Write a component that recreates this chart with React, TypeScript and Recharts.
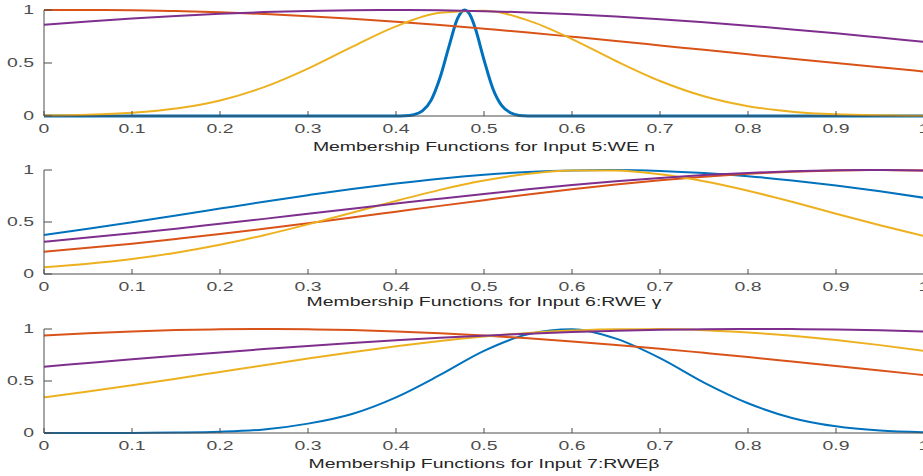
import React from "react";
import { LineChart, Line, XAxis, YAxis, Label } from "recharts";

// shared sample positions for the broad membership curves
const X_GRID = [0, 0.05, 0.1, 0.15, 0.2, 0.25, 0.3, 0.35, 0.4, 0.45, 0.5, 0.55, 0.6, 0.65, 0.7, 0.75, 0.8, 0.85, 0.9, 0.95, 1];
// denser sampling around the narrow peak of input 5
const X_PEAK = [0, 0.4, 0.41, 0.42, 0.43, 0.44, 0.45, 0.46, 0.47, 0.478, 0.485, 0.49, 0.5, 0.51, 0.52, 0.53, 0.54, 0.55, 1];

const X_TICKS = [0, 0.1, 0.2, 0.3, 0.4, 0.5, 0.6, 0.7, 0.8, 0.9, 1];
const X_TICK_LABELS = ["0", "0.1", "0.2", "0.3", "0.4", "0.5", "0.6", "0.7", "0.8", "0.9", "1"];
const Y_TICKS = [0, 0.5, 1];
const Y_TICK_LABELS = ["0", "0.5", "1"];

// input 5: WE n
const WE_BLUE = [0, 0, 0.002, 0.012, 0.048, 0.15, 0.36, 0.65, 0.92, 1, 0.94, 0.83, 0.53, 0.26, 0.1, 0.03, 0.005, 0.001, 0];
const WE_ORANGE = [1, 1, 0.998, 0.99, 0.979, 0.962, 0.942, 0.917, 0.889, 0.858, 0.823, 0.787, 0.748, 0.708, 0.666, 0.624, 0.582, 0.54, 0.499, 0.459, 0.42];
const WE_YELLOW = [0.004, 0.011, 0.03, 0.07, 0.147, 0.272, 0.447, 0.652, 0.846, 0.973, 0.994, 0.902, 0.726, 0.519, 0.33, 0.186, 0.093, 0.041, 0.016, 0.006, 0.002];
const WE_PURPLE = [0.86, 0.891, 0.919, 0.944, 0.964, 0.98, 0.991, 0.998, 1, 0.997, 0.989, 0.977, 0.96, 0.938, 0.913, 0.884, 0.852, 0.817, 0.78, 0.74, 0.7];

// input 6: RWE γ
const RWEG_BLUE = [0.375, 0.435, 0.498, 0.563, 0.629, 0.695, 0.758, 0.818, 0.871, 0.917, 0.954, 0.981, 0.996, 1, 0.991, 0.971, 0.941, 0.9, 0.851, 0.795, 0.733];
const RWEG_ORANGE = [0.215, 0.252, 0.292, 0.337, 0.384, 0.435, 0.488, 0.543, 0.599, 0.655, 0.71, 0.764, 0.814, 0.86, 0.901, 0.936, 0.964, 0.984, 0.996, 1, 0.995];
const RWEG_YELLOW = [0.064, 0.098, 0.144, 0.205, 0.281, 0.373, 0.477, 0.589, 0.703, 0.809, 0.898, 0.963, 0.996, 0.995, 0.959, 0.892, 0.801, 0.694, 0.58, 0.469, 0.365];
const RWEG_PURPLE = [0.31, 0.35, 0.392, 0.436, 0.483, 0.53, 0.579, 0.628, 0.677, 0.724, 0.77, 0.814, 0.855, 0.891, 0.923, 0.951, 0.972, 0.988, 0.997, 1, 0.996];

// input 7: RWEβ
const RWEB_BLUE = [0, 0, 0.001, 0.004, 0.012, 0.034, 0.09, 0.183, 0.343, 0.558, 0.79, 0.95, 0.998, 0.907, 0.72, 0.485, 0.286, 0.145, 0.064, 0.024, 0.008];
const RWEB_ORANGE = [0.937, 0.959, 0.977, 0.99, 0.997, 1, 0.997, 0.99, 0.977, 0.959, 0.937, 0.911, 0.88, 0.846, 0.811, 0.771, 0.73, 0.687, 0.644, 0.6, 0.557];
const RWEB_YELLOW = [0.343, 0.399, 0.459, 0.522, 0.587, 0.652, 0.716, 0.777, 0.834, 0.885, 0.928, 0.962, 0.985, 0.998, 0.999, 0.989, 0.967, 0.935, 0.894, 0.845, 0.79];
const RWEB_PURPLE = [0.638, 0.673, 0.708, 0.742, 0.775, 0.807, 0.837, 0.865, 0.891, 0.915, 0.936, 0.955, 0.97, 0.982, 0.992, 0.997, 1, 0.999, 0.995, 0.987, 0.976];

const COLORS = ["#0072BD", "#D95319", "#EDB120", "#7E2F8E"];
const FONT = "'Liberation Sans', Arial, Helvetica, sans-serif";
const SX = 1.62; // glyphs are drawn wide
const AXIS = "#4d4d4d";

const toPoints = (xs: number[], ys: number[]) => xs.map((x, i) => ({ x, y: ys[i] }));

const XTick = ({ x, y, index }: any) => (
  <g transform={`translate(${x},${y}) scale(${SX},1)`}>
    <text textAnchor="middle" dy="0.71em" fontSize={12} fill={AXIS} fontFamily={FONT}>
      {X_TICK_LABELS[index]}
    </text>
  </g>
);

const YTick = ({ x, y, index }: any) => (
  <g transform={`translate(${x},${y}) scale(${SX},1)`}>
    <text textAnchor="end" dy="0.355em" fontSize={12} fill={AXIS} fontFamily={FONT}>
      {Y_TICK_LABELS[index]}
    </text>
  </g>
);

const AxisTitle = ({ viewBox, text, dy }: any) => {
  const { x, y, width } = viewBox;
  return (
    <g transform={`translate(${x + width / 2},${y + dy}) scale(${SX},1)`}>
      <text textAnchor="middle" fontSize={12} fill="#262626" fontFamily={FONT}>
        {text}
      </text>
    </g>
  );
};

type Series = { xs: number[]; ys: number[]; width: number };

function Panel({ top, plotH, title, titleDy, series }: { top: number; plotH: number; title: string; titleDy: number; series: Series[] }) {
  return (
    <div style={{ position: "absolute", left: 0, top: top - 10 }}>
      <LineChart width={940} height={plotH + 60} margin={{ top: 10, right: 16, bottom: 0, left: 0 }}>
        <XAxis
          xAxisId="top"
          orientation="top"
          type="number"
          dataKey="x"
          domain={[0, 1]}
          ticks={X_TICKS}
          height={0}
          tick={false}
          tickSize={-5}
          stroke={AXIS}
        />
        <XAxis
          type="number"
          dataKey="x"
          domain={[0, 1]}
          ticks={X_TICKS}
          height={50}
          tick={<XTick />}
          tickSize={-5}
          tickMargin={13}
          stroke={AXIS}
          interval={0}
        >
          <Label content={(p: any) => <AxisTitle viewBox={p.viewBox} text={title} dy={titleDy} />} />
        </XAxis>
        <YAxis
          type="number"
          domain={[0, 1]}
          ticks={Y_TICKS}
          width={44}
          tick={<YTick />}
          tickSize={-8}
          tickMargin={18}
          stroke={AXIS}
          interval={0}
        />
        {series.map((s, i) => (
          <Line
            key={i}
            data={toPoints(s.xs, s.ys)}
            dataKey="y"
            type="monotone"
            stroke={COLORS[i]}
            strokeWidth={s.width}
            dot={false}
            activeDot={false}
            isAnimationActive={false}
          />
        ))}
      </LineChart>
    </div>
  );
}

export default function App() {
  return (
    <div style={{ position: "fixed", left: 0, top: 0, width: 923, height: 476, overflow: "hidden", background: "#fff" }}>
      <Panel
        top={10}
        plotH={106}
        title="Membership Functions for Input 5:WE n"
        titleDy={35}
        series={[
          { xs: X_PEAK, ys: WE_BLUE, width: 3 },
          { xs: X_GRID, ys: WE_ORANGE, width: 2 },
          { xs: X_GRID, ys: WE_YELLOW, width: 2 },
          { xs: X_GRID, ys: WE_PURPLE, width: 2 },
        ]}
      />
      <Panel
        top={170}
        plotH={104}
        title="Membership Functions for Input 6:RWE γ"
        titleDy={32}
        series={[
          { xs: X_GRID, ys: RWEG_BLUE, width: 2 },
          { xs: X_GRID, ys: RWEG_ORANGE, width: 2 },
          { xs: X_GRID, ys: RWEG_YELLOW, width: 2 },
          { xs: X_GRID, ys: RWEG_PURPLE, width: 2 },
        ]}
      />
      <Panel
        top={329}
        plotH={104}
        title="Membership Functions for Input 7:RWEβ"
        titleDy={35}
        series={[
          { xs: X_GRID, ys: RWEB_BLUE, width: 2 },
          { xs: X_GRID, ys: RWEB_ORANGE, width: 2 },
          { xs: X_GRID, ys: RWEB_YELLOW, width: 2 },
          { xs: X_GRID, ys: RWEB_PURPLE, width: 2 },
        ]}
      />
    </div>
  );
}
